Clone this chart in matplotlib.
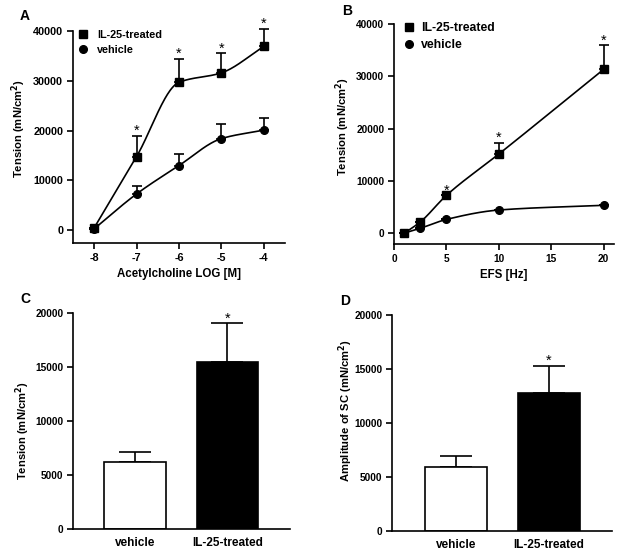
import numpy as np
import matplotlib
matplotlib.use("Agg")
import matplotlib.pyplot as plt
from matplotlib.lines import Line2D

plt.rcParams['font.family'] = ['Liberation Sans', 'DejaVu Sans']
plt.rcParams['font.weight'] = 'bold'
plt.rcParams['axes.labelweight'] = 'bold'
plt.rcParams['axes.unicode_minus'] = False

# ---- Data ----
# Panel A: acetylcholine concentration-response
ach_log = [-8, -7, -6, -5, -4]
ach_il25 = [500, 14800, 29700, 31600, 36900]
ach_il25_err = [0, 4100, 4700, 3900, 3500]
ach_vehicle = [300, 7300, 13000, 18400, 20100]
ach_vehicle_err = [0, 1600, 2400, 2900, 2400]
ach_sig = [False, True, True, True, True]

# Panel B: EFS frequency-response
efs_hz = [1, 2.5, 5, 10, 20]
efs_il25 = [0, 2100, 7200, 15100, 31300]
efs_il25_err = [0, 0, 0, 2200, 4600]
efs_vehicle = [0, 900, 2600, 4400, 5300]
efs_vehicle_err = [0, 0, 0, 0, 0]
efs_sig = [False, False, True, True, True]

# Panel C / D: bar charts
groups = ['vehicle', 'IL-25-treated']
c_values = [6230, 15500]
c_err = [870, 3550]
d_values = [5900, 12800]
d_err = [1080, 2480]

legend_labels = ['IL-25-treated', 'vehicle']


def pchip(x, y, xn):
    x = np.asarray(x, float); y = np.asarray(y, float)
    h = np.diff(x); d = np.diff(y) / h
    n = len(x); m = np.zeros(n)
    for k in range(1, n - 1):
        if d[k - 1] * d[k] <= 0:
            m[k] = 0
        else:
            w1 = 2 * h[k] + h[k - 1]; w2 = h[k] + 2 * h[k - 1]
            m[k] = (w1 + w2) / (w1 / d[k - 1] + w2 / d[k])
    m[0] = d[0]; m[-1] = d[-1]
    yn = np.empty_like(xn)
    for i, xv in enumerate(xn):
        k = min(max(np.searchsorted(x, xv) - 1, 0), n - 2)
        t = (xv - x[k]) / h[k]
        h00 = 2 * t**3 - 3 * t**2 + 1; h10 = t**3 - 2 * t**2 + t
        h01 = -2 * t**3 + 3 * t**2; h11 = t**3 - t**2
        yn[i] = h00 * y[k] + h10 * h[k] * m[k] + h01 * y[k + 1] + h11 * h[k] * m[k + 1]
    return yn


W, H = 624, 557
fig = plt.figure(figsize=(W / 100, H / 100), dpi=100)

LABEL_FS = 8.1


def ax_px(l, r, t, b):
    return fig.add_axes([l / W, 1 - b / H, (r - l) / W, (b - t) / H])


def style(ax, tick_fs):
    for s in ['top', 'right']:
        ax.spines[s].set_visible(False)
    for s in ['left', 'bottom']:
        ax.spines[s].set_linewidth(1.2)
    ax.tick_params(direction='out', length=4, width=1.2, labelsize=tick_fs, pad=3)
    for lab in ax.get_xticklabels() + ax.get_yticklabels():
        lab.set_fontweight('bold')


def line_panel(ax, x, ys, errs, sig, xlim, ylim, xticks, xlabel, xlabelpad,
               ylab_xy, leg_anchor, leg_fs, leg_pad, tick_fs):
    markers = ['s', 'o']
    xs = np.linspace(min(x), max(x), 200)
    for y, e, mk in zip(ys, errs, markers):
        ax.plot(xs, pchip(x, y, xs), color='black', lw=1.2, zorder=2)
        ax.errorbar(x, y, yerr=[np.zeros(len(e)), e], fmt='none', ecolor='black',
                    elinewidth=1.2, capsize=3.5, capthick=1.2, zorder=1, clip_on=False)
        ax.plot(x, y, linestyle='none', marker=mk, ms=5.5, color='black', zorder=3,
                clip_on=False)
    top = np.asarray(ys[0]) + np.asarray(errs[0])
    for xv, tv, s in zip(x, top, sig):
        if s:
            ax.annotate('*', (xv, tv), xytext=(0, -1.5), textcoords='offset points',
                        ha='center', va='bottom', fontsize=10.5, fontweight='normal',
                        annotation_clip=False)
    ax.set_xlim(*xlim); ax.set_ylim(*ylim)
    ax.set_xticks(xticks)
    ax.set_yticks([0, 10000, 20000, 30000, 40000])
    ax.set_xlabel(xlabel, fontsize=8.3, fontweight='bold', labelpad=xlabelpad)
    ax.set_ylabel('Tension (mN/cm$^\\mathbf{2}$)', fontsize=LABEL_FS, fontweight='bold')
    ax.yaxis.set_label_coords(*ylab_xy)
    handles = [Line2D([], [], marker='s', ls='none', color='black', ms=5.5),
               Line2D([], [], marker='o', ls='none', color='black', ms=5.5)]
    ax.legend(handles, legend_labels, loc='upper left', bbox_to_anchor=leg_anchor,
              frameon=False, handletextpad=leg_pad, handlelength=1.2, borderaxespad=0.0,
              labelspacing=0.45, borderpad=0.1, prop={'weight': 'bold', 'size': leg_fs})
    style(ax, tick_fs)


axA = ax_px(73, 285, 31, 243)
line_panel(axA, ach_log, [ach_il25, ach_vehicle], [ach_il25_err, ach_vehicle_err],
           ach_sig, (-8.5, -3.5), (-2550, 40000), [-8, -7, -6, -5, -4],
           'Acetylcholine LOG [M]', 4, (-0.214, 0.538), (0.01, 1.01), 7.8, 0.75, 7.8)

axB = ax_px(394, 614, 24, 244)
line_panel(axB, efs_hz, [efs_il25, efs_vehicle], [efs_il25_err, efs_vehicle_err],
           efs_sig, (0, 21), (-2100, 40000), [0, 5, 10, 15, 20], 'EFS [Hz]', 4,
           (-0.193, 0.534), (0.03, 1.015), 8.8, 0.4, 7.3)


def bar_panel(ax, vals, errs, ylabel, xlim, ylab_xy):
    xpos = np.arange(len(groups))
    ax.bar(xpos, vals, width=0.665, color=['white', 'black'], edgecolor='black',
           linewidth=1.2, zorder=2)
    ax.errorbar(xpos, vals, yerr=[np.zeros(len(errs)), errs], fmt='none', ecolor='black',
                elinewidth=1.2, capsize=11.5, capthick=1.2, zorder=1)
    top = np.asarray(vals) + np.asarray(errs)
    ax.annotate('*', (xpos[1], top[1]), xytext=(0, -1.5), textcoords='offset points',
                ha='center', va='bottom', fontsize=10.5, fontweight='normal')
    ax.set_xlim(*xlim)
    ax.set_ylim(0, 20000)
    ax.set_yticks([0, 5000, 10000, 15000, 20000])
    ax.set_xticks(xpos)
    ax.set_xticklabels(groups)
    style(ax, 7.3)
    ax.tick_params(axis='x', length=0, pad=6)
    for lab in ax.get_xticklabels():
        lab.set_fontsize(8.5)
    ax.set_ylabel(ylabel, fontsize=LABEL_FS, fontweight='bold')
    ax.yaxis.set_label_coords(*ylab_xy)


axC = ax_px(73, 290, 313, 529)
bar_panel(axC, c_values, c_err, 'Tension (mN/cm$^\\mathbf{2}$)', (-0.67, 1.68),
          (-0.187, 0.454))

axD = ax_px(392, 612, 315, 531)
bar_panel(axD, d_values, d_err, 'Amplitude of SC (mN/cm$^\\mathbf{2}$)', (-0.69, 1.68),
          (-0.17, 0.556))

for lbl, x, y in [('A', 25, 16), ('B', 347, 11), ('C', 25, 299), ('D', 345, 301)]:
    fig.text(x / W, 1 - y / H, lbl, fontsize=10, fontweight='bold', ha='center', va='center')

fig.savefig('out.png', dpi=100)
